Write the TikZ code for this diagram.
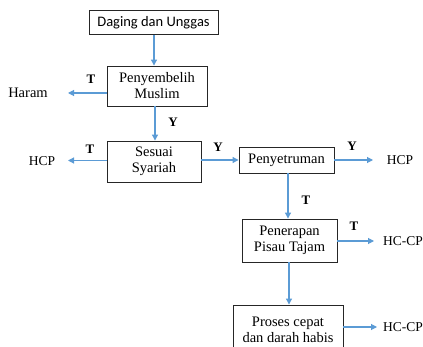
\documentclass[tikz,border=0pt]{standalone}
\usepackage{fontspec}
\setmainfont{Liberation Serif}
\newfontfamily\calib{Carlito}
\usetikzlibrary{arrows.meta}
\definecolor{flowblue}{HTML}{5B9BD5}
\definecolor{boxline}{HTML}{262626}
\tikzset{
  stepbox/.style={draw=boxline, line width=0.9pt, align=center, inner sep=0pt,
    font=\fontsize{14.5}{16}\selectfont},
  flow/.style={draw=flowblue, line width=1.1pt, -{Triangle[width=6pt,length=6pt]}},
  outcome/.style={font=\fontsize{13.5}{16}\selectfont, inner sep=0pt},
  yn/.style={font=\bfseries\fontsize{13}{15}\selectfont, inner sep=0pt}
}
\begin{document}
\begin{tikzpicture}[x=1pt,y=-1pt]
\useasboundingbox (0,0) rectangle (423,347);

% process boxes
\node[stepbox, minimum width=129pt, minimum height=24pt, font=\calib\fontsize{14.5}{16}\selectfont]
  (b1) at (153.5,22.5) {Daging dan Unggas};
\node[stepbox, minimum width=100pt, minimum height=40pt] (b2) at (157,86) {Penyembelih\\Muslim};
\node[stepbox, minimum width=94pt, minimum height=41pt] (b3) at (154,161.5) {Sesuai\\Syariah};
\node[stepbox, minimum width=95pt, minimum height=26pt] (b4) at (286.5,160) {Penyetruman};
\node[stepbox, minimum width=95pt, minimum height=43pt] (b5) at (289.5,240.5) {Penerapan\\Pisau Tajam};
\node[stepbox, minimum width=110pt, minimum height=50pt] (b6) at (288,330) {Proses cepat\\dan darah habis};

% outcomes
\node[outcome, font=\fontsize{14.5}{16}\selectfont] (haram) at (28,93) {Haram};
\node[outcome] (hcp1) at (42,161) {HCP};
\node[outcome] (hcp2) at (400,160) {HCP};
\node[outcome] (hccp1) at (403,241) {HC-CP};
\node[outcome] (hccp2) at (403,327) {HC-CP};

% arrow tips that stop short of the outcome labels
\coordinate (tHaram) at (68,93);
\coordinate (tHcp1) at (68,160.5);
\coordinate (tHcp2) at (373,160);
\coordinate (tHccp1) at (374,241);
\coordinate (tHccp2) at (377,327);
\coordinate (c12) at (154,0);
\coordinate (c23) at (155,0);
\coordinate (c45) at (288,0);
\coordinate (c56) at (289,0);

% connectors
\draw[flow] (b1.south -| c12) -- (b2.north -| c12);
\draw[flow] (b2.west |- tHaram) -- (tHaram);
\draw[flow] (b2.south -| c23) -- (b3.north -| c23);
\draw[flow] (b3.west |- tHcp1) -- (tHcp1);
\draw[flow] (b3.east |- b4.west) -- (b4.west);
\draw[flow] (b4.east) -- (tHcp2);
\draw[flow] (b4.south -| c45) -- (b5.north -| c45);
\draw[flow] (b5.east |- tHccp1) -- (tHccp1);
\draw[flow] (b5.south -| c56) -- (b6.north -| c56);
\draw[flow] (b6.east |- tHccp2) -- (tHccp2);

% branch labels
\node[yn] (l1) at (91,79) {T};
\node[yn] (l2) at (173,122) {Y};
\node[yn] (l3) at (90,149) {T};
\node[yn] (l4) at (218,147) {Y};
\node[yn] (l5) at (352,146) {Y};
\node[yn] (l6) at (306,200) {T};
\node[yn] (l7) at (354,226) {T};
\end{tikzpicture}
\end{document}
